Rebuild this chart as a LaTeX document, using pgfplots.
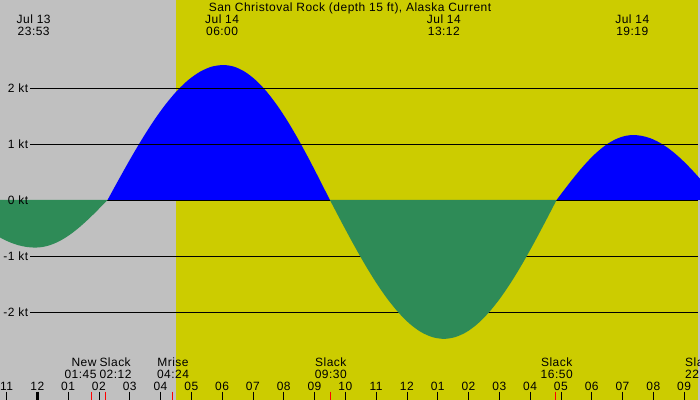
\documentclass[border=0pt]{standalone}
\usepackage{pgfplots}
\pgfplotsset{compat=1.18}
\usepackage{fontspec}
\setmainfont{Liberation Sans}[LetterSpace=4.0]

\definecolor{night}{HTML}{C0C0C0}
\definecolor{day}{HTML}{CCCC00}
\definecolor{flood}{HTML}{0000FF}
\definecolor{ebb}{HTML}{2E8B57}

% hour (since midnight, Jul 14) vs. current speed in knots
\pgfplotstableread{
h v
-2.77 0
-2.50 -0.133
-2.23 -0.2627
-1.96 -0.3859
-1.69 -0.4996
-1.42 -0.601
-1.15 -0.6877
-0.88 -0.7573
-0.61 -0.8084
-0.34 -0.8395
-0.07 -0.85
0.165 -0.8395
0.40 -0.8084
0.635 -0.7573
0.87 -0.6877
1.105 -0.601
1.34 -0.4996
1.575 -0.3859
1.81 -0.2627
2.045 -0.133
2.28 0
}\ebbA
\pgfplotstableread{
h v
2.28 0
2.656 0.377
3.032 0.745
3.408 1.094
3.784 1.417
4.16 1.704
4.536 1.95
4.912 2.147
5.288 2.292
5.664 2.381
6.04 2.41
6.386 2.381
6.732 2.292
7.078 2.147
7.424 1.95
7.77 1.704
8.116 1.417
8.462 1.094
8.808 0.745
9.154 0.377
9.5 0
}\floodA
\pgfplotstableread{
h v
9.5 0
9.87 -0.388
10.24 -0.766
10.61 -1.126
10.98 -1.458
11.35 -1.754
11.72 -2.006
12.09 -2.210
12.46 -2.359
12.83 -2.449
13.2 -2.48
13.566 -2.449
13.932 -2.359
14.298 -2.210
14.664 -2.006
15.03 -1.754
15.396 -1.458
15.762 -1.126
16.128 -0.766
16.494 -0.388
16.86 0
}\ebbB
\pgfplotstableread{
h v
16.86 0
17.109 0.1815
17.358 0.3585
17.607 0.5266
17.856 0.6818
18.105 0.8202
18.354 0.9385
18.603 1.0336
18.852 1.1032
19.101 1.1457
19.35 1.16
19.625 1.1457
19.9 1.1032
20.175 1.0336
20.45 0.9385
20.725 0.8202
21.0 0.6818
21.275 0.5266
21.55 0.3585
21.825 0.1815
22.1 0
}\floodB

\newcommand{\hr}[2]{\node[anchor=base] at (axis cs:#1,-3.393) {#2};}

\begin{document}
\begin{tikzpicture}[every node/.style={font=\fontsize{12}{14}\selectfont, inner sep=0pt, text=black}]
\begin{axis}[
  scale only axis, width=700pt, height=400pt,
  xmin=-1.2110, xmax=21.5162, ymin=-3.5714, ymax=3.5714,
  hide axis,
]
% night / day background
\fill[night] (axis cs:-1.3,-3.6) rectangle (axis cs:4.503,3.6);
\fill[day] (axis cs:4.503,-3.6) rectangle (axis cs:21.435,3.6);
\fill[night] (axis cs:21.435,-3.6) rectangle (axis cs:21.6,3.6);

% flood
\addplot[fill=flood, draw=none, smooth] table[x=h,y=v] {\floodA} -- cycle;
\addplot[fill=flood, draw=none, smooth] table[x=h,y=v] {\floodB} -- cycle;

% speed grid
\pgfplotsinvokeforeach{-2,-1,0,1,2}{
  \draw[black, line width=0.8pt] (axis cs:-0.237,#1) -- (axis cs:21.435,#1);
}

% ebb
\addplot[fill=ebb, draw=none, smooth] table[x=h,y=v] {\ebbA} -- cycle;
\addplot[fill=ebb, draw=none, smooth] table[x=h,y=v] {\ebbB} -- cycle;

% speed labels
\node[anchor=base east] at (axis cs:-0.292,1.911) {2 kt};
\node[anchor=base east] at (axis cs:-0.292,0.911) {1 kt};
\node[anchor=base east] at (axis cs:-0.292,-0.089) {0 kt};
\node[anchor=base east] at (axis cs:-0.292,-1.089) {-1 kt};
\node[anchor=base east] at (axis cs:-0.292,-2.089) {-2 kt};

% title and extremes
\node[anchor=base] at (axis cs:10.154,3.366) {San Christoval Rock (depth 15 ft), Alaska Current};
\node[anchor=base] at (axis cs:-0.117,3.150) {Jul 13};
\node[anchor=base] at (axis cs:-0.117,2.941) {23:53};
\node[anchor=base] at (axis cs:6.0,3.150) {Jul 14};
\node[anchor=base] at (axis cs:6.0,2.941) {06:00};
\node[anchor=base] at (axis cs:13.2,3.150) {Jul 14};
\node[anchor=base] at (axis cs:13.2,2.941) {13:12};
\node[anchor=base] at (axis cs:19.317,3.150) {Jul 14};
\node[anchor=base] at (axis cs:19.317,2.941) {19:19};

% events
\node[anchor=base east] at (axis cs:1.929,-2.973) {New};
\node[anchor=base east] at (axis cs:1.929,-3.188) {01:45};
\node[anchor=base west] at (axis cs:2.013,-2.973) {Slack};
\node[anchor=base west] at (axis cs:2.013,-3.188) {02:12};
\node[anchor=base] at (axis cs:4.406,-2.973) {Mrise};
\node[anchor=base] at (axis cs:4.406,-3.188) {04:24};
\node[anchor=base] at (axis cs:9.529,-2.973) {Slack};
\node[anchor=base] at (axis cs:9.529,-3.188) {09:30};
\node[anchor=base] at (axis cs:16.864,-2.973) {Slack};
\node[anchor=base] at (axis cs:16.864,-3.188) {16:50};
\node[anchor=base west] at (axis cs:21.03,-2.973) {Slack};
\node[anchor=base west] at (axis cs:21.03,-3.188) {22:05};

% hour ticks
\pgfplotsinvokeforeach{-1,0,...,21}{
  \draw[black, line width=0.8pt] (axis cs:#1,-3.423) -- (axis cs:#1,-3.6);
}
\draw[black, line width=3pt] (axis cs:0,-3.423) -- (axis cs:0,-3.6);
\pgfplotsinvokeforeach{1.75,2.2,4.4,9.5,16.8333}{
  \draw[red, line width=0.8pt] (axis cs:#1,-3.423) -- (axis cs:#1,-3.6);
}
\hr{-1}{11}\hr{0}{12}\hr{1}{01}\hr{2}{02}\hr{3}{03}\hr{4}{04}\hr{5}{05}
\hr{6}{06}\hr{7}{07}\hr{8}{08}\hr{9}{09}\hr{10}{10}\hr{11}{11}\hr{12}{12}
\hr{13}{01}\hr{14}{02}\hr{15}{03}\hr{16}{04}\hr{17}{05}\hr{18}{06}
\hr{19}{07}\hr{20}{08}\hr{21}{09}

\coordinate (bl) at (rel axis cs:0,0);
\coordinate (tr) at (rel axis cs:1,1);
\end{axis}
\pgfresetboundingbox
\useasboundingbox (bl) rectangle (tr);
\end{tikzpicture}
\end{document}
